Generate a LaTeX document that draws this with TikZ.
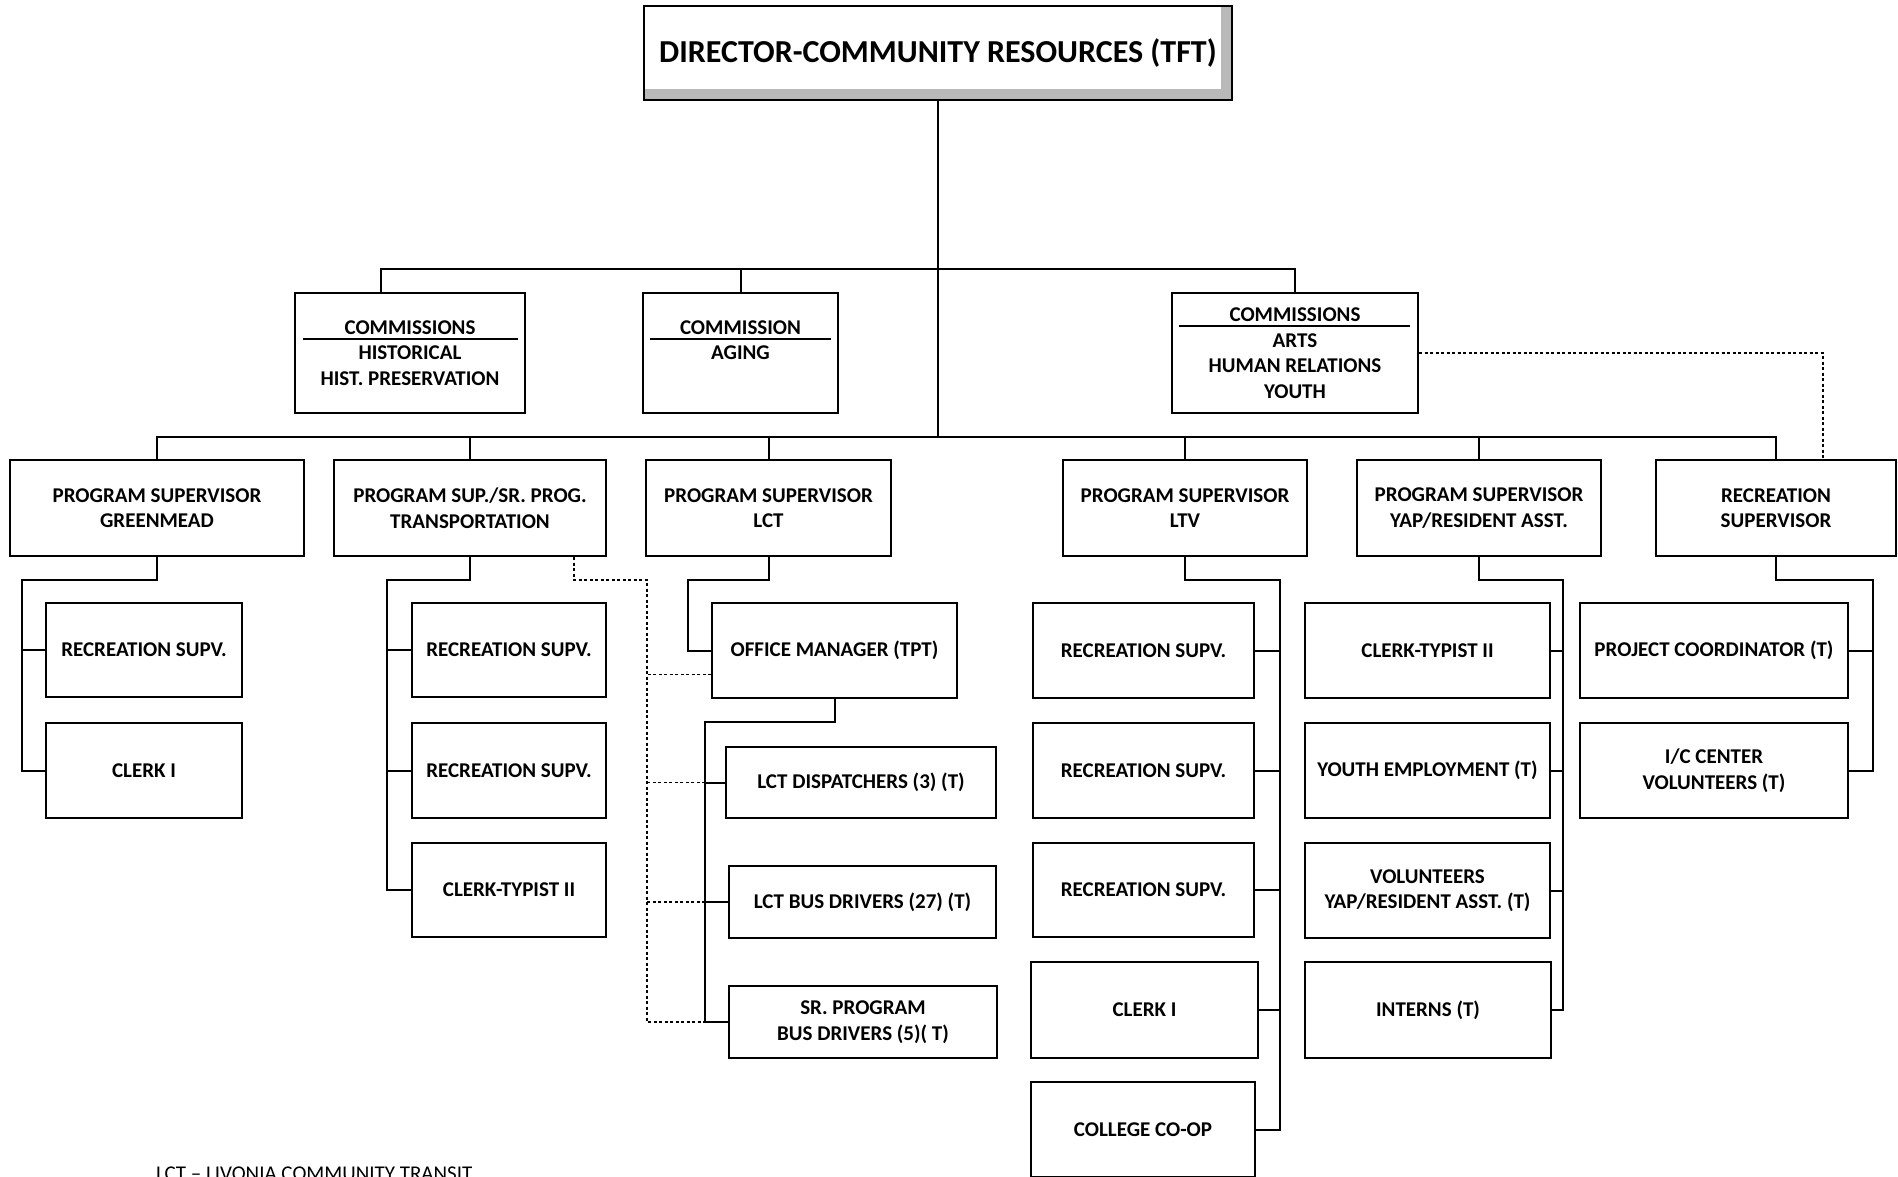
\documentclass[tikz,border=0pt]{standalone}
\usepackage{fontspec}
\setmainfont{Carlito}
\usepackage{tikz}

\begin{document}
\begin{tikzpicture}[x=1pt, y=-1pt, line width=2pt,
    box/.style={draw, align=center, inner sep=2pt, fill=white,
      font=\bfseries\fontsize{21}{25.5}\selectfont},
    dotline/.style={line width=1.6pt, dash pattern=on 3pt off 2.5pt}]
    \useasboundingbox (0,0) rectangle (1898,1176);

    % top
    \node[box, minimum width=588pt, minimum height=94pt,
      font=\bfseries\fontsize{32}{38}\selectfont,
      path picture={\fill[gray!55] (path picture bounding box.south west) rectangle (path picture bounding box.north east);
        \fill[white] ([xshift=1pt,yshift=-1pt]path picture bounding box.north west) rectangle ([xshift=-11pt,yshift=11pt]path picture bounding box.south east);}]
      (title) at (938,53) {\raisebox{-2pt}{DIRECTOR-COMMUNITY RESOURCES (TFT)}};

    % commissions
    \node[box, minimum width=230pt, minimum height=120pt] (com1) at (410,353) {COMMISSIONS\\HISTORICAL\\HIST. PRESERVATION};
    \node[box, minimum width=195pt, minimum height=120pt] (com2) at (740.5,353) {COMMISSION\\AGING\\\mbox{}};
    \node[box, minimum width=246pt, minimum height=120pt] (com3) at (1295,353) {COMMISSIONS\\ARTS\\HUMAN RELATIONS\\YOUTH};
    \draw[line width=1.5pt] ([shift={(9,47)}]com1.north west) -- ([shift={(-8,47)}]com1.north east);
    \draw[line width=1.5pt] ([shift={(8,47)}]com2.north west) -- ([shift={(-8,47)}]com2.north east);
    \draw[line width=1.5pt] ([shift={(8,34)}]com3.north west) -- ([shift={(-9,34)}]com3.north east);

    % program supervisors
    \node[box, minimum width=294pt, minimum height=96pt] (gm) at (157,508) {PROGRAM SUPERVISOR\\GREENMEAD};
    \node[box, minimum width=272pt, minimum height=96pt] (tr) at (470,508) {PROGRAM SUP./SR. PROG.\\TRANSPORTATION};
    \node[box, minimum width=245pt, minimum height=96pt] (lct) at (768.5,508) {PROGRAM SUPERVISOR\\LCT};
    \node[box, minimum width=244pt, minimum height=96pt] (ltv) at (1185,508) {PROGRAM SUPERVISOR\\LTV};
    \node[box, minimum width=244pt, minimum height=96pt] (yap) at (1479,508) {PROGRAM SUPERVISOR\\YAP/RESIDENT ASST.};
    \node[box, minimum width=240pt, minimum height=96pt] (rec) at (1776,508) {RECREATION\\SUPERVISOR};

    % greenmead
    \node[box, minimum width=196pt, minimum height=94pt] (gm1) at (144,650) {RECREATION SUPV.};
    \node[box, minimum width=196pt, minimum height=95pt] (gm2) at (144,770.5) {CLERK I};

    % transportation
    \node[box, minimum width=194pt, minimum height=94pt] (tr1) at (509,650) {RECREATION SUPV.};
    \node[box, minimum width=194pt, minimum height=95pt] (tr2) at (509,770.5) {RECREATION SUPV.};
    \node[box, minimum width=194pt, minimum height=94pt] (tr3) at (509,890) {CLERK-TYPIST II};

    % lct
    \node[box, minimum width=245pt, minimum height=95pt] (om) at (834.5,650.5) {OFFICE MANAGER (TPT)};
    \node[box, minimum width=270pt, minimum height=71pt] (d1) at (861,782.5) {LCT DISPATCHERS (3) (T)};
    \node[box, minimum width=267pt, minimum height=72pt] (d2) at (862.5,902) {LCT BUS DRIVERS (27) (T)};
    \node[box, minimum width=268pt, minimum height=72pt] (d3) at (863,1022) {SR. PROGRAM\\BUS DRIVERS (5)( T)};

    % ltv
    \node[box, minimum width=221pt, minimum height=95pt] (ltv1) at (1143.5,650.5) {RECREATION SUPV.};
    \node[box, minimum width=221pt, minimum height=95pt] (ltv2) at (1143.5,770.5) {RECREATION SUPV.};
    \node[box, minimum width=221pt, minimum height=94pt] (ltv3) at (1143.5,890) {RECREATION SUPV.};
    \node[box, minimum width=227pt, minimum height=96pt] (ltv4) at (1144.5,1010) {CLERK I};
    \node[box, minimum width=224pt, minimum height=95pt] (ltv5) at (1143,1129.5) {COLLEGE CO-OP};

    % yap
    \node[box, minimum width=245pt, minimum height=95pt] (yap1) at (1427.5,650.5) {CLERK-TYPIST II};
    \node[box, minimum width=245pt, minimum height=95pt] (yap2) at (1427.5,770.5) {YOUTH EMPLOYMENT (T)};
    \node[box, minimum width=245pt, minimum height=95pt] (yap3) at (1427.5,890.5) {VOLUNTEERS\\YAP/RESIDENT ASST. (T)};
    \node[box, minimum width=246pt, minimum height=96pt] (yap4) at (1428,1010) {INTERNS (T)};

    % recreation
    \node[box, minimum width=268pt, minimum height=95pt] (rec1) at (1714,650.5) {PROJECT COORDINATOR (T)};
    \node[box, minimum width=268pt, minimum height=95pt] (rec2) at (1714,770.5) {I/C CENTER\\VOLUNTEERS (T)};

    \node[anchor=base west, inner sep=0pt, font=\fontsize{21}{25}\selectfont] (note) at (155,1180) {LCT -- LIVONIA COMMUNITY TRANSIT};

    % lines
    \coordinate (cbus) at (381,269);
    \coordinate (bus) at (938,437);
    \draw (title.south) -- (bus);
    \draw ([xshift=-29pt]com1.north) -- (cbus) -| (com3.north);
    \draw (com2.north) -- (com2.north |- cbus);
    \draw (gm.north) |- (bus) -| (rec.north);
    \foreach \n in {tr,lct,ltv,yap}
      \draw (\n.north) -- (\n.north |- bus);

    \coordinate (gmsp) at (22,580);
    \draw (gm.south) |- (gmsp) |- (gm2.west);
    \draw (gm1.west) -- (gm1.west -| gmsp);

    \coordinate (trsp) at (387,580);
    \draw (tr.south) |- (trsp) |- (tr3.west);
    \foreach \n in {tr1,tr2}
      \draw (\n.west) -- (\n.west -| trsp);

    \coordinate (lctsp) at (688,580);
    \draw (lct.south) |- (lctsp) |- (om.west);
    \coordinate (omsp) at (705,722);
    \draw (om.south) |- (omsp) |- (d3.west);
    \foreach \n in {d1,d2}
      \draw (\n.west) -- (\n.west -| omsp);

    \coordinate (ltvsp) at (1280,580);
    \draw (ltv.south) |- (ltvsp) |- (ltv5.east);
    \foreach \n in {ltv1,ltv2,ltv3,ltv4}
      \draw (\n.east) -- (\n.east -| ltvsp);

    \coordinate (yapsp) at (1563,580);
    \draw (yap.south) |- (yapsp) |- (yap4.east);
    \foreach \n in {yap1,yap2,yap3}
      \draw (\n.east) -- (\n.east -| yapsp);

    \coordinate (recsp) at (1873,580);
    \draw (rec.south) |- (recsp) |- (rec2.east);
    \draw (rec1.east) -- (rec1.east -| recsp);

    % dotted
    \coordinate (dotsp) at (647,580);
    \draw[dotline] ([xshift=-33pt]tr.south east) |- (dotsp) |- (d3.west -| omsp);
    \draw[dotline] ([yshift=-24pt]om.west) -- ([yshift=-24pt]om.west -| dotsp);
    \foreach \n in {d1,d2}
      \draw[dotline] (\n.west -| omsp) -- (\n.west -| dotsp);
    \draw[dotline] (com3.east) -| ([xshift=47pt]rec.north);
  \end{tikzpicture}
\end{document}
